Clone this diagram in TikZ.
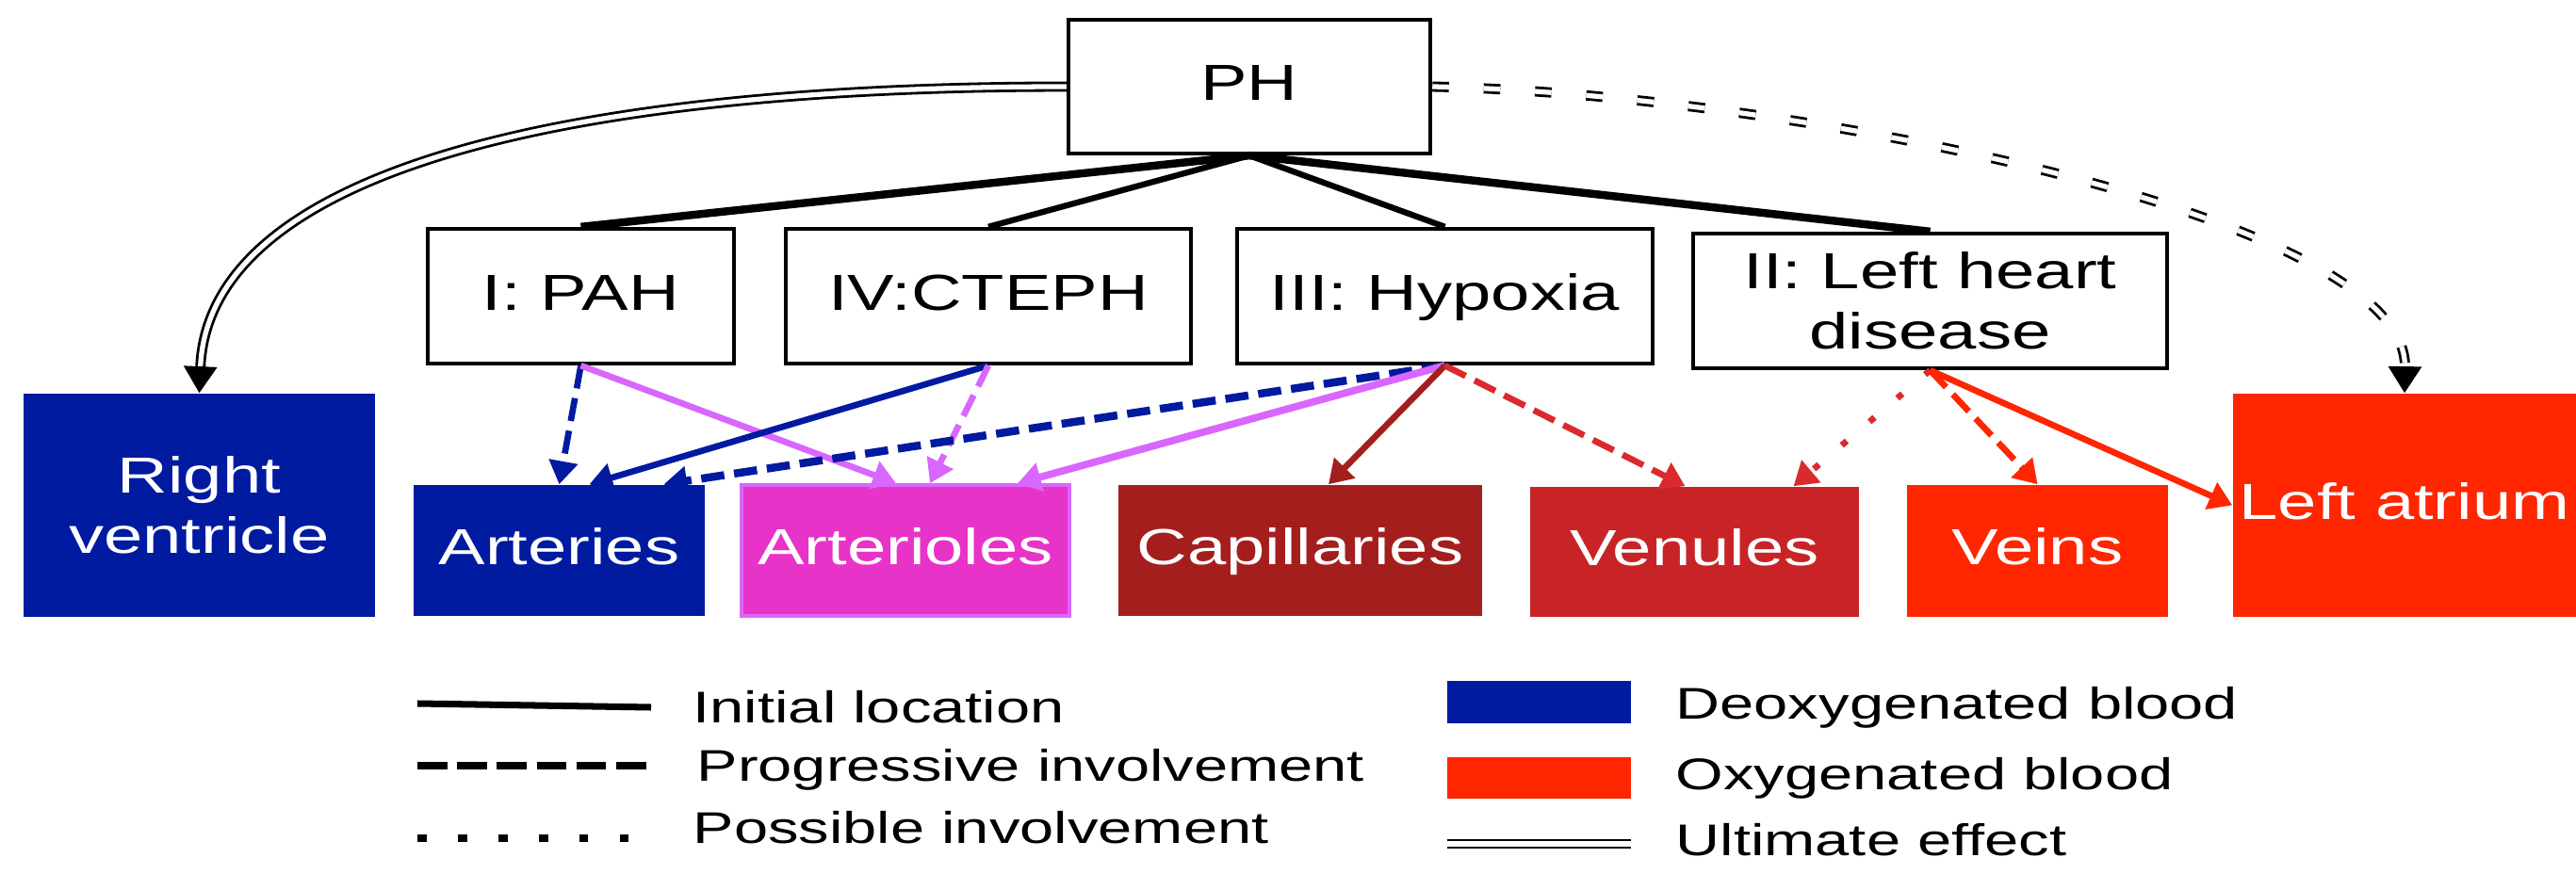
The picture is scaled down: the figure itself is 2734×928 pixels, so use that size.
\documentclass[tikz,border=0pt]{standalone}
\usepackage{fontspec}
\setmainfont[FakeStretch=1.38]{Liberation Sans}
\usetikzlibrary{arrows.meta,calc}
\definecolor{deoxy}{HTML}{001AA0}
\definecolor{oxy}{HTML}{FF2600}
\definecolor{magfill}{HTML}{E833C8}
\definecolor{magline}{HTML}{D966FF}
\definecolor{capc}{HTML}{A51E1E}
\definecolor{venc}{HTML}{C82428}
\definecolor{venline}{HTML}{DA2A2E}
\begin{document}
\begin{tikzpicture}[x=0.01cm,y=-0.01cm,
  lbl/.style={font=\fontsize{15.3pt}{18.2pt}\selectfont},
  oneline/.style={text height=0.85em,text depth=0pt},
  wbox/.style={lbl,draw=black,line width=1.2pt,fill=white,inner sep=0pt,align=center},
  cbox/.style={lbl,inner sep=0pt,align=center,text=white},
  tree/.style={line width=1.8pt,black},
  treethick/.style={line width=2.4pt,black},
  ult/.style={double=white,line width=0.8pt,double distance=1.5pt},
  bigtip/.style={-{Triangle[length=8pt,width=10pt]}},
  arr/.style={-{Triangle[length=7pt,width=8.5pt]},line width=1.9pt},
  dsh/.style={dash pattern=on 7pt off 3pt},
  dotty/.style={dash pattern=on 2pt off 9pt},
  lg/.style={font=\fontsize{13.4pt}{16pt}\selectfont,anchor=base west,inner sep=0pt}
]
\useasboundingbox (0,0) rectangle (2734,928);

% top and group boxes
\node[wbox,oneline,minimum width=3.84cm,minimum height=1.42cm] (ph) at (1326,92) {PH};
\node[wbox,oneline,minimum width=3.25cm,minimum height=1.43cm] (pah) at (616.5,314.5) {I: PAH};
\node[wbox,oneline,minimum width=4.30cm,minimum height=1.43cm] (cteph) at (1049,314.5) {IV:CTEPH};
\node[wbox,oneline,minimum width=4.41cm,minimum height=1.43cm] (hyp) at (1533.5,314.5) {III: Hypoxia};
\node[wbox,minimum width=5.03cm,minimum height=1.43cm] (lhd) at (2048.5,319.5) {II: Left heart\\disease};

% vessel boxes
\node[cbox,fill=deoxy,minimum width=3.73cm,minimum height=2.37cm] (rv) at (211.5,536.5) {Right\\ventricle};
\node[cbox,oneline,fill=deoxy,minimum width=3.09cm,minimum height=1.39cm] (art) at (593.5,584.5) {Arteries};
\node[cbox,oneline,fill=magfill,draw=magline,line width=1pt,minimum width=3.48cm,minimum height=1.39cm] (arl) at (961,584.5) {Arterioles};
\node[cbox,oneline,fill=capc,minimum width=3.86cm,minimum height=1.39cm] (cap) at (1380,584.5) {Capillaries};
\node[cbox,oneline,fill=venc,minimum width=3.49cm,minimum height=1.38cm] (ven) at (1798.5,586) {Venules};
\node[cbox,oneline,fill=oxy,minimum width=2.77cm,minimum height=1.40cm] (vei) at (2162.5,585) {Veins};
\node[cbox,oneline,fill=oxy,minimum width=3.64cm,minimum height=2.37cm] (la) at (2552,536.5) {Left atrium};

% tree lines
\draw[treethick] (ph.south) -- (pah.north);
\draw[tree] (ph.south) -- (cteph.north);
\draw[tree] (ph.south) -- (hyp.north);
\draw[treethick] (ph.south) -- (lhd.north);

% ultimate effect curves
\draw[ult,bigtip] (ph.west) .. controls ($(ph.west)+(-550,0)$) and ($(rv.north)+(10,-230)$) .. (rv.north);
\draw[ult,bigtip,dash pattern=on 5pt off 10.5pt] (ph.east) .. controls ($(ph.east)+(382,8)$) and ($(la.north)+(3,-188)$) .. (la.north);

% involvement arrows
\draw[arr,deoxy,dsh] (pah.south) -- (art.north);
\draw[arr,magline] (pah.south) -- ($(arl.north)+(-10,0)$);
\draw[arr,deoxy] (cteph.south) -- ($(art.north)+(32,0)$);
\draw[arr,magline,dsh] (cteph.south) -- ($(arl.north)+(26,0)$);
\draw[arr,deoxy,dsh,line width=2.4pt] (hyp.south) -- ($(art.north)+(111,0)$);
\draw[arr,magline,line width=2.2pt] (hyp.south) -- ($(arl.north)+(119,0)$);
\draw[arr,capc] (hyp.south) -- ($(cap.north)+(30,0)$);
\draw[arr,venline,dsh] (hyp.south) -- ($(ven.north)+(-10,0)$);
\draw[arr,venline,dotty] (lhd.south) -- ($(ven.north)+(105,0)$);
\draw[arr,oxy,dsh] (lhd.south) -- (vei.north);
\draw[arr,oxy] (lhd.south) -- (la.west);

% legend, left column
\coordinate (l1a) at (443,747); \coordinate (l1b) at (691,751);
\coordinate (l2a) at (443,813); \coordinate (l2b) at (686,813);
\coordinate (l3a) at (443,890); \coordinate (l3b) at (667,890);
\draw[line width=2pt] (l1a) -- (l1b);
\draw[line width=2pt,dash pattern=on 9pt off 3pt] (l2a) -- (l2b);
\draw[line width=2pt,dash pattern=on 2.8pt off 9.4pt] (l3a) -- (l3b);
\node[lg] (t1) at (735,767) {Initial location};
\node[lg] (t2) at (739,829) {Progressive involvement};
\node[lg] (t3) at (735,895) {Possible involvement};

% legend, right column
\node[fill=deoxy,inner sep=0pt,minimum width=1.95cm,minimum height=0.45cm] (lgb) at (1633.5,745.5) {};
\node[fill=oxy,inner sep=0pt,minimum width=1.95cm,minimum height=0.44cm] (lgr) at (1633.5,826) {};
\coordinate (l4a) at (1536,896); \coordinate (l4b) at (1731,896);
\draw[ult] (l4a) -- (l4b);
\node[lg] (t4) at (1778,763) {Deoxygenated blood};
\node[lg] (t5) at (1778,838) {Oxygenated blood};
\node[lg] (t6) at (1778,908) {Ultimate effect};
\end{tikzpicture}
\end{document}
